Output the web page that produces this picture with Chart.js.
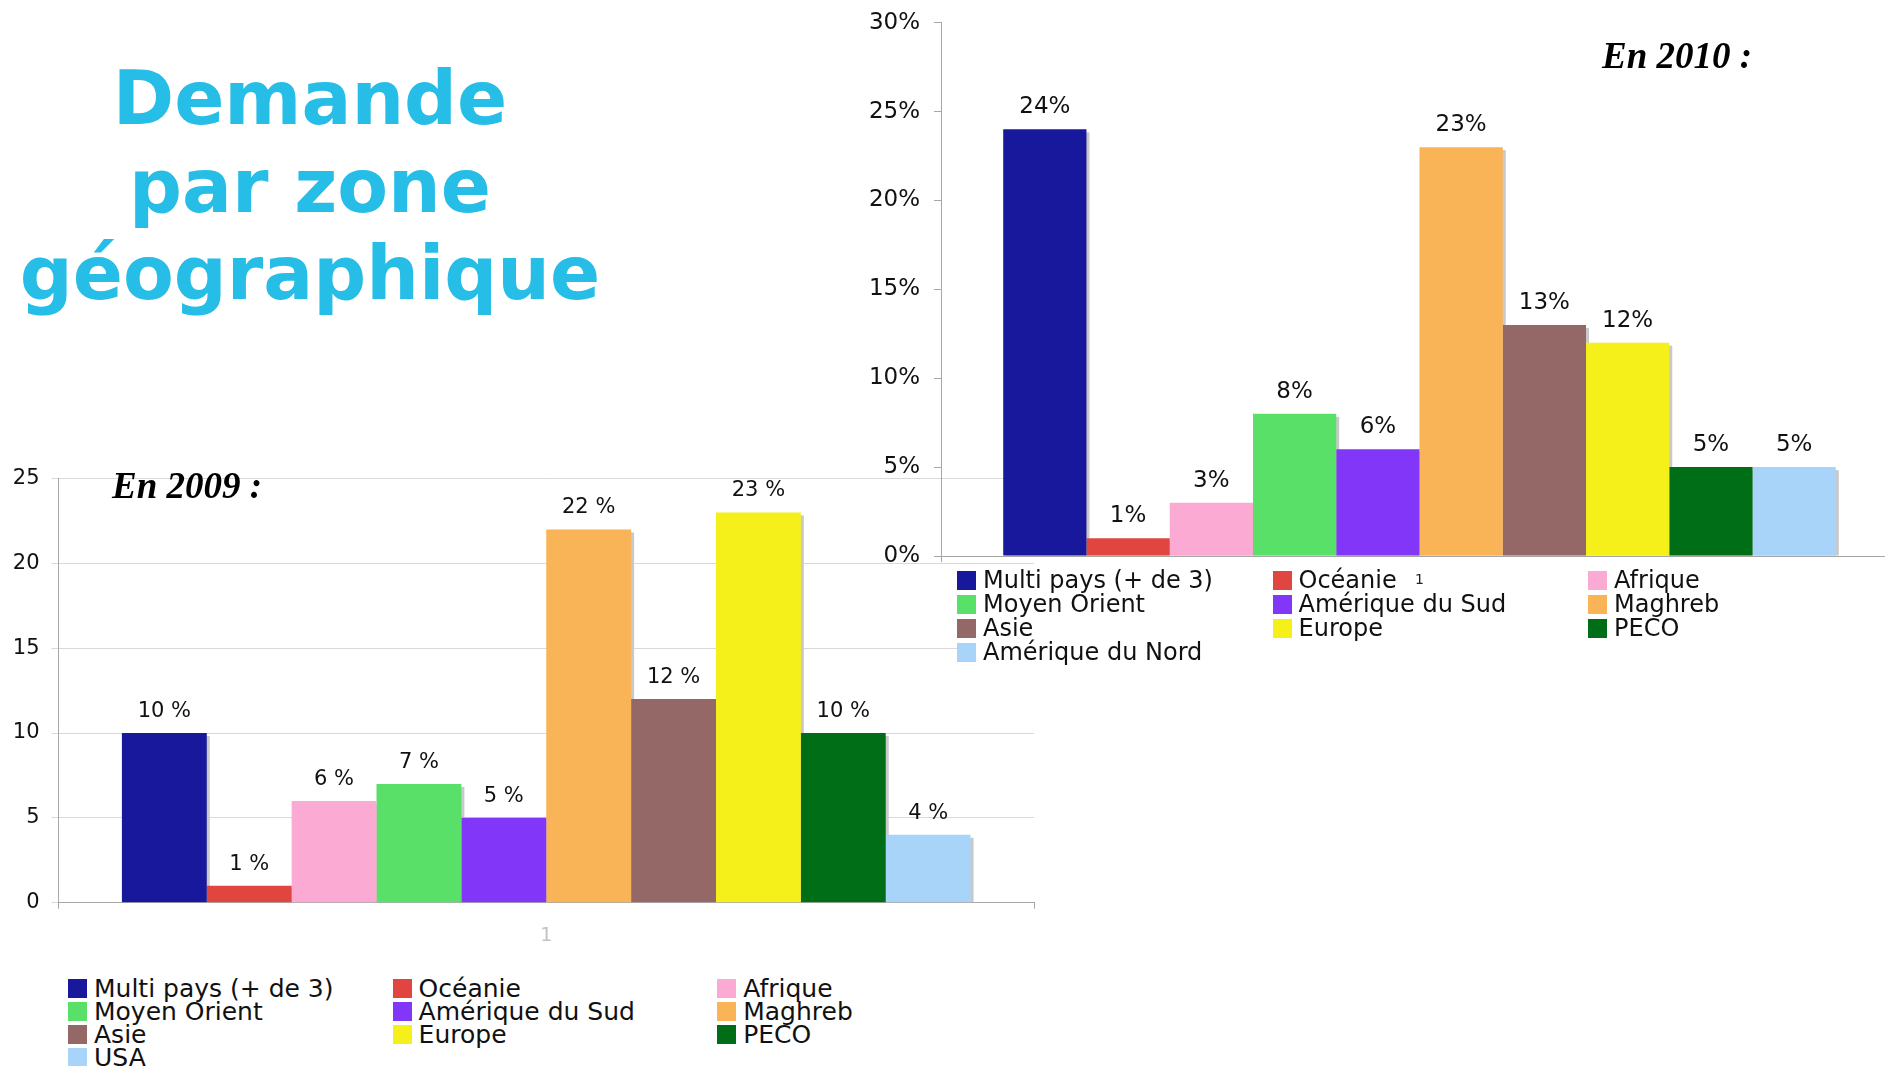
<!DOCTYPE html>
<html lang="fr">
<head>
<meta charset="utf-8">
<title>Demande par zone géographique</title>
<script src="https://cdn.jsdelivr.net/npm/chart.js@4.4.1/dist/chart.umd.min.js"></script>
<style>
  html, body { margin: 0; padding: 0; background: #fff; }
  body {
    width: 1885px; height: 1066px; overflow: hidden; position: relative;
    font-family: 'DejaVu Sans', Verdana, sans-serif; color: #111;
  }
  .title-line {
    position: absolute; left: 0; width: 620px; text-align: center;
    font: bold 74px/74px 'DejaVu Sans', Verdana, sans-serif;
    color: #26bde6; white-space: nowrap; z-index: 0;
  }
  .year {
    position: absolute; white-space: nowrap; color: #000;
    font: italic bold 37px/37px 'Liberation Serif', 'Times New Roman', serif;
  }
  canvas { position: absolute; display: block; }
  #c2009 { left: 0; top: 441px; z-index: 1; }
  #c2010 { left: 860px; top: 0; z-index: 4; }
  #y2009 { left: 112px; top: 467px; z-index: 2; }
  #y2010 { left: 1602px; top: 37px; z-index: 5; }
  .legend { position: absolute; display: grid; background: #fff; }
  .legend .item { display: flex; align-items: center; white-space: nowrap; }
  .legend .sw { flex: none; width: 19px; height: 19px; margin-right: 7px; }
  #l2009 {
    left: 68px; top: 977px; z-index: 2;
    grid-template-columns: repeat(3, 324.6px); grid-auto-rows: 23px;
    font-size: 25px; line-height: 23px;
  }
  #l2010 {
    left: 957px; top: 568px; width: 928px; height: 96px; z-index: 3;
    grid-template-columns: repeat(3, 315.5px); grid-auto-rows: 24px;
    font-size: 24px; line-height: 24px;
  }
</style>
</head>
<body>
  <div class="title-line" style="top:61px">Demande</div>
  <div class="title-line" style="top:149px">par zone</div>
  <div class="title-line" style="top:236px">géographique</div>

  <canvas id="c2009" width="1040" height="520"></canvas>
  <div class="year" id="y2009">En 2009 :</div>
  <div class="legend" id="l2009"></div>

  <div class="legend" id="l2010"></div>
  <canvas id="c2010" width="1040" height="600"></canvas>
  <div class="year" id="y2010">En 2010 :</div>

<script>
// Single category: every zone is one bar inside the same group
const categories = ['1'];

const zones2009 = ['Multi pays (+ de 3)', 'Océanie', 'Afrique', 'Moyen Orient', 'Amérique du Sud',
                   'Maghreb', 'Asie', 'Europe', 'PECO', 'USA'];
const zones2010 = ['Multi pays (+ de 3)', 'Océanie', 'Afrique', 'Moyen Orient', 'Amérique du Sud',
                   'Maghreb', 'Asie', 'Europe', 'PECO', 'Amérique du Nord'];

// Share of demand per zone, in percent
const values2009 = [10, 1, 6, 7, 5, 22, 12, 23, 10, 4];
const values2010 = [24, 1, 3, 8, 6, 23, 13, 12, 5, 5];

// Value-axis graduations
const ticks2009 = [0, 5, 10, 15, 20, 25];
const ticks2010 = [0, 5, 10, 15, 20, 25, 30];

const zoneColors = ['#18189c', '#e0463f', '#fbaad3', '#58e068', '#8236f8',
                    '#f9b457', '#956868', '#f6f01a', '#006e17', '#a8d4f9'];

const FONT = "'DejaVu Sans', Verdana, sans-serif";

// Flat grey drop shadow offset down-right behind every bar
const barShadow = {
  id: 'barShadow',
  beforeDatasetsDraw(chart) {
    const ctx = chart.ctx;
    ctx.save();
    ctx.fillStyle = '#c9c9c9';
    chart.data.datasets.forEach((ds, i) => {
      chart.getDatasetMeta(i).data.forEach(bar => {
        const p = bar.getProps(['x', 'y', 'base', 'width'], true);
        const h = p.base - p.y - 3;
        if (h > 0) ctx.fillRect(p.x - p.width / 2 + 3, p.y + 3, p.width, h);
      });
    });
    ctx.restore();
  }
};

// Percentage printed above each bar
const valueLabels = {
  id: 'valueLabels',
  afterDatasetsDraw(chart, args, opts) {
    const ctx = chart.ctx;
    ctx.save();
    ctx.font = opts.size + 'px ' + FONT;
    ctx.fillStyle = '#111';
    ctx.textAlign = 'center';
    ctx.textBaseline = 'alphabetic';
    chart.data.datasets.forEach((ds, i) => {
      chart.getDatasetMeta(i).data.forEach((bar, j) => {
        ctx.fillText(opts.format(ds.data[j]), bar.x, bar.y - opts.gap);
      });
    });
    ctx.restore();
  }
};

function buildDatasets(zones, values) {
  return zones.map((zone, i) => ({
    label: zone,
    data: [values[i]],
    backgroundColor: zoneColors[i],
    borderWidth: 0,
    barPercentage: 1,
    categoryPercentage: 0.87
  }));
}

function buildLegend(el, zones) {
  zones.forEach((zone, i) => {
    const item = document.createElement('div');
    item.className = 'item';
    const sw = document.createElement('span');
    sw.className = 'sw';
    sw.style.background = zoneColors[i];
    const txt = document.createElement('span');
    txt.textContent = zone;
    item.appendChild(sw);
    item.appendChild(txt);
    el.appendChild(item);
  });
}

// 2009 chart: light horizontal grid, plain numeric axis
new Chart(document.getElementById('c2009'), {
  type: 'bar',
  data: { labels: categories, datasets: buildDatasets(zones2009, values2009) },
  plugins: [barShadow, valueLabels],
  options: {
    responsive: false,
    animation: false,
    devicePixelRatio: 1,
    layout: { padding: { top: 37.5, right: 6, bottom: 0, left: 0 } },
    plugins: {
      legend: { display: false },
      tooltip: { enabled: false },
      valueLabels: { size: 21, gap: 16, format: v => v + ' %' }
    },
    scales: {
      x: {
        grid: { display: true, drawOnChartArea: false, tickLength: 6, color: '#a6a6a6', offset: true },
        border: { display: true, color: '#a6a6a6' },
        ticks: { color: '#c2c2c2', font: { family: FONT, size: 19 }, padding: 16 },
        afterFit: s => { s.height = 58.3; }
      },
      y: {
        min: ticks2009[0],
        max: ticks2009[ticks2009.length - 1],
        afterBuildTicks: s => { s.ticks = ticks2009.map(v => ({ value: v })); },
        ticks: { color: '#111', font: { family: FONT, size: 21 }, padding: 12 },
        grid: { color: '#d9d9d9', tickLength: 7 },
        border: { color: '#a6a6a6' },
        afterFit: s => { s.width = 58.5; }
      }
    }
  }
});

// 2010 chart: axis only, percentage graduations
new Chart(document.getElementById('c2010'), {
  type: 'bar',
  data: { labels: categories, datasets: buildDatasets(zones2010, values2010) },
  plugins: [barShadow, valueLabels],
  options: {
    responsive: false,
    animation: false,
    devicePixelRatio: 1,
    layout: { padding: { top: 22.7, right: 2, bottom: 0, left: 0 } },
    plugins: {
      legend: { display: false },
      tooltip: { enabled: false },
      valueLabels: { size: 23, gap: 16, format: v => v + '%' }
    },
    scales: {
      x: {
        grid: { display: true, drawOnChartArea: false, tickLength: 6, color: '#a6a6a6', offset: true },
        border: { display: true, color: '#a6a6a6' },
        ticks: { color: '#222', font: { family: FONT, size: 14 }, padding: 10 },
        afterFit: s => { s.height = 44; }
      },
      y: {
        min: ticks2010[0],
        max: ticks2010[ticks2010.length - 1],
        afterBuildTicks: s => { s.ticks = ticks2010.map(v => ({ value: v })); },
        ticks: { color: '#111', font: { family: FONT, size: 23, lineHeight: 0.6 }, padding: 14, callback: v => v + '%' },
        grid: { drawOnChartArea: false, color: '#a6a6a6', tickLength: 7 },
        border: { color: '#a6a6a6' },
        afterFit: s => { s.width = 81; }
      }
    }
  }
});

buildLegend(document.getElementById('l2009'), zones2009);
buildLegend(document.getElementById('l2010'), zones2010);
</script>
</body>
</html>
